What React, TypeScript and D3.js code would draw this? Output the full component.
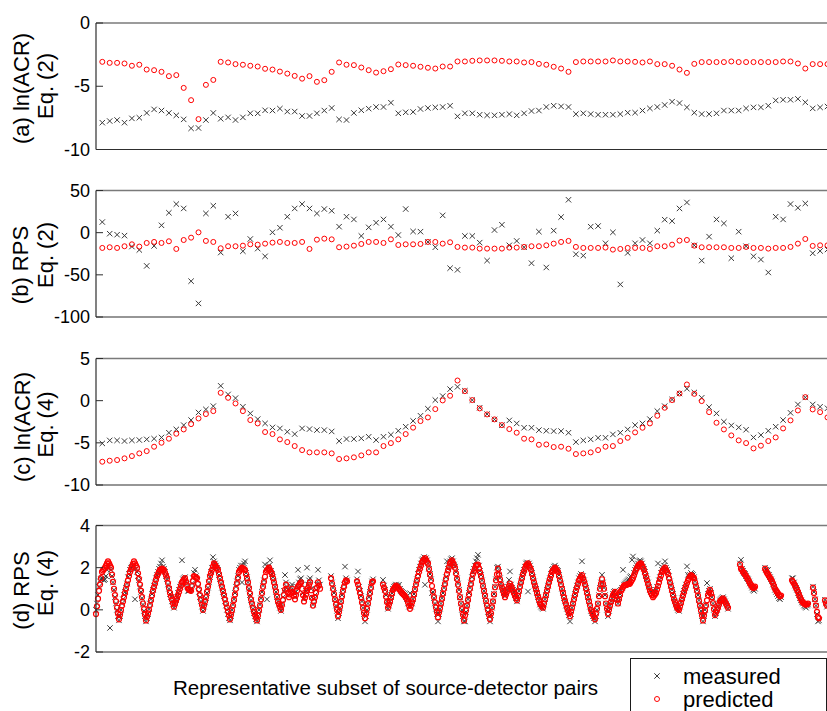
import React from "react";
import * as d3 from "d3";

// ---------- Panel (a): ln(ACR), Eq. (2) ----------
const aPred = [-3.07,-3.15,-3.15,-3.2,-3.38,-3.3,-3.68,-3.73,-3.86,-4.2,-4.12,-5.13,-6.1,-7.6,-4.89,-4.5,-3.07,-3.12,-3.25,-3.3,-3.38,-3.44,-3.62,-3.68,-3.84,-4.0,-4.18,-4.4,-4.2,-4.65,-4.52,-3.86,-3.12,-3.3,-3.33,-3.52,-3.73,-3.92,-3.81,-3.65,-3.28,-3.33,-3.38,
  -3.46,-3.54,-3.6,-3.44,-3.44,-3.04,-3.04,-2.99,-2.96,-2.96,-2.96,-2.99,-3.04,-3.04,-3.12,-3.09,-3.23,-3.3,-3.46,-3.6,-3.86,-3.09,-3.04,-3.04,-3.04,-3.04,-2.96,-3.04,-3.04,-3.07,-3.12,-3.04,-3.25,-3.25,-3.38,-3.68,-3.94,-3.23,-3.09,-3.09,-3.09,-3.09,-3.04,-3.09,-3.09,-3.09,-3.09,-3.09,-3.09,-3.04,-3.04,-3.2,-3.6,-3.25,-3.25,-3.25];
const aMeas = [-7.88,-7.75,-7.67,-7.88,-7.54,-7.49,-7.11,-6.83,-6.92,-7.11,-7.3,-7.62,-8.33,-8.3,-7.67,-7.11,-7.57,-7.46,-7.67,-7.46,-7.14,-7.14,-6.9,-6.92,-6.77,-7.0,-7.0,-7.35,-7.35,-7.14,-6.92,-6.72,-7.62,-7.67,-7.11,-6.9,-6.77,-6.64,-6.64,-6.3,-7.14,-7.06,-7.03,
  -6.8,-6.72,-6.67,-6.64,-6.54,-7.38,-7.14,-7.14,-7.25,-7.3,-7.3,-7.25,-7.2,-7.3,-7.14,-6.96,-6.92,-6.64,-6.54,-6.59,-6.64,-7.2,-7.14,-7.2,-7.25,-7.25,-7.25,-7.2,-7.09,-7.09,-6.92,-6.75,-6.64,-6.48,-6.22,-6.33,-6.67,-7.09,-7.2,-7.2,-7.14,-6.92,-6.92,-6.92,-6.75,-6.67,-6.67,-6.54,-6.12,-6.07,-6.07,-6.0,-6.27,-6.75,-6.67,-6.6];

// ---------- Panel (b): RPS, Eq. (2) ----------
const bMeas = [12.6,-1.2,-2.4,-3.5,-16.5,-20.5,-39.4,-15.7,8.7,23.6,33.9,28.7,-57.5,-83.9,22.8,31.9,-23.6,18.9,22.8,-22.0,-7.5,-18.9,-28.0,0.4,5.9,18.9,28.7,33.9,28.7,22.8,28.0,26.0,7.1,18.9,15.7,-3.9,6.3,11.8,15.7,7.1,-2.8,28.0,1.4,
  1.2,-11.0,-17.3,20.5,-42.1,-44.1,-3.9,-3.9,-11.8,-33.1,3.1,9.4,-15.0,-9.8,-17.3,-36.2,1.2,-41.3,2.4,18.5,39.0,-25.6,-27.2,7.1,7.9,-12.6,0.4,-61.4,-24.0,-12.6,-8.7,-12.6,2.4,15.4,13.8,28.7,35.8,-15.0,-33.1,-4.7,15.7,11.0,-30.3,1.2,-16.1,-28.0,-31.9,-47.2,18.9,15.7,33.9,29.5,34.6,-24.4,-21.7,-20.0];
const bPred = [-18.1,-17.3,-18.1,-16.1,-13.8,-16.5,-12.2,-11.0,-12.2,-10.2,-19.3,-8.7,-5.9,0.4,-9.8,-11.0,-18.5,-16.1,-16.1,-15.4,-13.8,-14.2,-13.0,-11.8,-11.0,-12.2,-12.2,-11.0,-19.3,-8.3,-7.1,-7.9,-17.3,-16.5,-15.4,-13.4,-11.0,-11.0,-12.2,-7.9,-14.6,-13.8,-13.8,
  -13.4,-11.0,-11.0,-13.0,-11.4,-16.9,-17.7,-17.7,-18.9,-18.9,-18.9,-18.9,-17.7,-17.7,-16.9,-16.1,-16.1,-15.0,-13.0,-11.0,-9.8,-16.9,-18.1,-18.1,-18.1,-17.7,-20.1,-19.3,-18.1,-18.1,-18.1,-19.3,-16.1,-16.1,-14.2,-9.4,-8.7,-15.4,-17.3,-17.3,-17.3,-17.3,-18.1,-18.1,-16.9,-18.1,-18.1,-18.9,-18.1,-18.1,-16.9,-13.0,-7.5,-15.7,-15.0,-15.0];

// ---------- Panel (c): ln(ACR), Eq. (4) ----------
const cMeas = [-5.07,-4.71,-4.71,-4.79,-4.71,-4.67,-4.59,-4.51,-4.36,-3.8,-3.41,-2.9,-2.3,-1.4,-1.04,-0.65,1.76,0.74,0.3,-0.72,-1.51,-2.19,-2.7,-3.17,-3.29,-3.69,-3.96,-3.29,-3.37,-3.49,-3.49,-3.65,-4.79,-4.55,-4.55,-4.47,-4.28,-4.67,-4.28,-4.04,-3.57,-3.09,-2.4,
  -1.79,-0.96,0.07,0.54,1.37,1.64,1.17,0.07,-0.84,-1.59,-2.22,-2.9,-2.34,-2.7,-3.21,-3.21,-3.49,-3.57,-3.61,-3.61,-3.8,-4.91,-4.71,-4.59,-4.4,-4.4,-4.0,-3.8,-3.41,-2.9,-2.7,-2.19,-1.24,-0.65,0.14,0.85,1.41,0.97,0.34,-0.76,-1.51,-2.5,-2.94,-3.17,-3.45,-4.36,-4.08,-3.57,-3.09,-2.3,-1.44,-0.45,0.38,-0.45,-0.72,-0.9];
const cPred = [-7.24,-7.12,-7.04,-6.84,-6.57,-6.25,-5.98,-5.46,-4.99,-4.51,-3.92,-3.41,-2.78,-2.11,-1.59,-1.24,0.93,0.34,-0.33,-1.24,-2.3,-2.7,-3.72,-3.96,-4.59,-4.91,-5.38,-5.86,-6.13,-6.13,-6.13,-6.25,-6.92,-6.84,-6.72,-6.49,-6.13,-6.13,-5.38,-5.03,-4.59,-3.96,-3.2,
  -2.42,-1.99,-1.0,0.03,0.58,2.39,1.13,0.07,-0.92,-1.63,-2.22,-2.9,-3.37,-3.8,-4.51,-4.59,-5.23,-5.19,-5.5,-5.46,-5.7,-6.33,-6.25,-6.13,-5.86,-5.46,-5.38,-4.79,-4.4,-3.76,-3.21,-2.7,-1.79,-0.84,0.07,0.85,1.92,0.81,-0.05,-1.36,-2.62,-3.41,-4.12,-4.71,-5.03,-5.66,-5.34,-4.79,-4.36,-3.29,-2.34,-1.16,0.42,-1.04,-1.36,-1.99];

// ---------- Panel (d): RPS, Eq. (4) - dense runs of pairs ----------
const dSegStart = [0, 235, 261, 287, 644, 669, 696, 717, 729];
const dPred = [
  [-0.2,0.17,0.53,0.9,1.2,1.5,1.8,1.87,1.93,2.0,2.1,2.2,2.3,2.2,2.1,2.0,1.67,1.33,1.0,0.7,0.4,0.1,-0.18,-0.45,-0.23,-0.01,0.2,0.4,0.6,0.8,1.0,1.2,1.4,1.6,1.8,1.93,2.05,2.18,2.3,2.2,2.1,2.0,1.73,1.47,1.2,0.9,0.6,0.3,0.03,-0.23,-0.5,-0.33,-0.17,0.0,0.23,0.45,0.68,0.9,1.08,1.25,1.43,1.6,1.7,1.8,1.9,1.92,1.95,1.92,1.9,1.77,1.63,1.5,1.27,1.03,0.8,0.64,0.48,0.31,0.15,0.29,0.43,0.56,0.7,0.85,1.0,1.15,1.3,1.37,1.43,1.5,1.33,1.17,1.0,0.97,0.93,0.9,1.13,1.37,1.6,1.57,1.53,1.5,1.23,0.97,0.7,0.47,0.23,0.0,0.2,0.4,0.6,0.85,1.1,1.35,1.6,1.75,1.9,2.05,2.2,2.13,2.05,1.98,1.9,1.7,1.5,1.3,1.1,0.9,0.7,0.5,0.3,0.11,-0.08,-0.26,-0.45,-0.23,-0.02,0.2,0.47,0.73,1.0,1.27,1.53,1.8,1.87,1.93,2.0,1.97,1.93,1.9,1.7,1.5,1.3,1.03,0.77,0.5,0.3,0.1,-0.1,-0.23,-0.37,-0.5,-0.27,-0.03,0.2,0.5,0.8,1.1,1.33,1.57,1.8,1.87,1.93,2.0,1.9,1.8,1.7,1.5,1.3,1.1,0.87,0.63,0.4,0.27,0.13,0.0,0.23,0.47,0.7,0.95,1.2,1.0,0.8,0.6,0.73,0.87,1.0,0.83,0.67,0.5,0.7,0.9,1.1,1.17,1.23,1.3,1.0,0.7,0.4,0.57,0.73,0.9,1.03,1.17,1.3,0.93,0.57,0.2,0.4,0.6,0.8,1.05,1.3,1.15,1.0],
  [1.5,1.25,1.0,0.75,0.5,0.25,0.0,-0.3,-0.1,0.15,0.4,0.65,0.9,1.1,1.3,1.4,1.35],
  [1.35,1.2,1.0,0.8,0.6,0.35,0.1,-0.15,-0.4,-0.2,0.05,0.3,0.55,0.8,1.05,1.3,1.35],
  [1.2,1.05,0.9,0.63,0.37,0.1,0.25,0.4,0.58,0.77,0.95,1.02,1.08,1.15,1.1,1.05,1.0,0.93,0.87,0.8,0.75,0.7,0.65,0.58,0.5,0.35,0.2,0.05,0.2,0.35,0.5,0.73,0.97,1.2,1.4,1.6,1.8,1.95,2.1,2.25,2.32,2.38,2.45,2.37,2.28,2.2,1.93,1.67,1.4,1.13,0.87,0.6,0.36,0.11,-0.12,-0.35,-0.13,0.08,0.3,0.53,0.77,1.0,1.23,1.47,1.7,1.87,2.03,2.2,2.28,2.35,2.23,2.12,2.0,1.73,1.47,1.2,0.9,0.6,0.3,0.03,-0.23,-0.5,-0.27,-0.03,0.2,0.47,0.73,1.0,1.23,1.47,1.7,1.83,1.97,2.1,2.13,2.15,1.97,1.78,1.6,1.37,1.13,0.9,0.67,0.43,0.2,-0.02,-0.23,-0.45,-0.17,0.12,0.4,0.73,1.07,1.4,1.68,1.95,1.7,1.45,1.2,1.05,0.9,0.75,0.6,0.73,0.87,1.0,1.13,1.25,1.13,1.02,0.9,0.79,0.67,0.56,0.45,0.67,0.88,1.1,1.3,1.5,1.7,1.83,1.97,2.1,2.15,2.2,2.1,2.0,1.9,1.7,1.5,1.3,1.13,0.97,0.8,0.63,0.47,0.3,0.23,0.17,0.1,0.3,0.5,0.7,0.9,1.1,1.3,1.47,1.63,1.8,1.87,1.93,2.0,1.93,1.87,1.8,1.6,1.4,1.2,1.0,0.8,0.6,0.43,0.27,0.1,-0.03,-0.17,-0.3,-0.1,0.1,0.3,0.5,0.7,0.9,1.07,1.23,1.4,1.48,1.57,1.65,1.5,1.35,1.2,1.0,0.8,0.6,0.4,0.2,0.0,-0.11,-0.23,-0.34,-0.45,-0.2,0.05,0.3,0.65,1.0,1.23,1.45,1.23,1.0,0.65,0.3,0.05,-0.2,0.0,0.2,0.37,0.53,0.7,0.78,0.85,0.67,0.48,0.3,0.5,0.7,0.9,0.98,1.07,1.15,1.17,1.18,1.2,1.22,1.23,1.25,1.33,1.42,1.5,1.63,1.77,1.9,1.98,2.07,2.15,2.18,2.2,2.1,2.0,1.9,1.73,1.57,1.4,1.23,1.07,0.9,0.8,0.7,0.6,0.67,0.73,0.8,0.97,1.13,1.3,1.47,1.63,1.8,1.87,1.93,2.0,1.9,1.8,1.7,1.5,1.3,1.1,0.9,0.7,0.5,0.37,0.23,0.1,0.05,0.0,0.17,0.33,0.5,0.67,0.83,1.0,1.13,1.27,1.4,1.48,1.57,1.65,1.6,1.55,1.5,1.3,1.1,0.9,0.67,0.43,0.2,-0.03,-0.27,-0.5,-0.27,-0.03,0.2,0.45,0.7,0.83,0.95,0.78,0.6,0.32,0.03,-0.25,-0.13,-0.02,0.1,0.25,0.4,0.45,0.5,0.55,0.47,0.38,0.3,0.2,0.1],
  [2.15,1.95,1.9,1.8,1.75,1.68,1.6,1.52,1.45,1.35,1.25,1.18,1.1,1.05,1.05,1.1],
  [1.95,1.85,1.75,1.68,1.6,1.52,1.45,1.35,1.25,1.12,1.0,0.92,0.85,0.78,0.7,0.65,0.68],
  [1.4,1.32,1.25,1.15,1.05,0.95,0.85,0.72,0.6,0.5,0.4,0.35,0.3,0.27,0.25,0.27,0.3],
  [1.05,0.8,0.5,0.2,-0.1,-0.35,-0.4],
  [0.45,0.3,0.2],
];
const dMeas = [
  [0.0,0.3,0.7,1.1,1.35,1.45,1.5,1.45,1.4,1.45,1.6,1.9,2.0,2.1,-0.86,1.9,1.6,1.3,0.95,0.6,0.3,0.0,-0.3,-0.5,-0.3,0.0,0.3,0.5,0.7,0.85,1.05,1.25,1.55,1.7,1.9,2.0,2.05,2.1,2.1,0.5,1.95,1.8,1.6,1.4,1.1,0.85,0.55,0.25,-0.05,-0.3,-0.55,-0.4,-0.2,0.05,0.3,0.5,0.75,0.95,1.15,1.3,1.5,1.65,1.8,1.95,2.05,2.2,2.35,2.05,1.95,1.8,1.6,1.45,1.2,1.0,0.75,0.6,0.4,0.25,0.1,0.3,0.45,0.6,0.8,0.95,1.1,1.2,2.35,1.45,1.5,1.55,1.3,1.1,0.9,0.9,0.95,1.0,1.25,1.5,1.75,1.9,1.6,1.4,1.1,0.85,0.6,0.4,0.15,-0.05,0.15,0.35,0.55,0.8,1.05,1.3,1.55,1.8,2.0,2.5,2.3,2.2,2.1,2.0,1.9,1.65,1.45,1.25,1.05,0.85,0.65,0.4,0.2,0.0,-0.2,-0.4,-0.5,-0.3,0.0,0.25,0.5,0.8,1.1,1.35,1.6,1.9,2.0,2.1,1.3,2.1,2.2,2.3,1.75,1.55,1.3,1.0,0.7,0.45,0.25,0.05,-0.15,-0.3,-0.45,-0.55,-0.3,0.0,0.25,0.55,0.85,1.15,1.4,2.15,1.9,0.5,2.05,2.1,2.35,1.85,1.7,1.55,1.35,1.1,0.85,0.6,0.4,0.25,0.1,-0.05,0.3,0.6,0.9,1.65,1.3,1.1,0.95,0.7,0.9,1.1,1.2,0.9,0.8,0.6,0.85,1.1,1.9,1.3,1.45,1.5,1.2,0.8,0.5,0.7,0.9,2.0,1.2,1.4,1.5,1.0,0.6,0.25,0.5,0.7,0.95,1.2,1.9,1.4,1.2],
  [1.6,1.3,1.05,0.8,0.5,0.2,-0.05,-0.4,-0.15,0.1,0.4,0.7,0.95,1.2,2.05,1.5,1.4],
  [1.45,1.82,1.1,0.9,0.65,0.4,0.1,-0.2,-0.55,-0.3,0.0,0.3,0.6,0.85,1.1,1.35,1.45],
  [1.42,1.15,0.95,0.7,0.4,0.05,0.2,0.4,0.6,0.8,1.0,1.1,1.15,1.2,1.15,1.1,1.19,1.0,0.9,0.85,0.8,0.75,0.7,0.6,0.5,0.3,0.15,0.79,0.15,0.3,0.5,0.75,1.0,1.25,1.45,1.7,1.9,2.05,2.2,2.35,2.4,2.5,1.19,2.45,2.35,2.2,1.95,1.7,1.45,0.79,0.85,0.55,0.3,0.05,-0.2,-0.55,-0.2,0.05,0.3,0.55,0.8,1.05,1.3,1.55,2.3,1.95,2.1,2.3,2.4,2.45,2.3,2.15,2.05,1.8,1.5,1.25,0.95,0.6,0.3,0.0,-0.3,-0.55,-0.55,-0.1,0.2,0.5,0.8,1.05,1.3,1.55,1.8,1.95,2.1,2.3,2.45,2.61,2.1,1.85,1.65,1.4,1.15,0.9,0.65,0.4,0.15,-0.1,-0.3,-0.55,-0.25,0.1,0.4,0.75,1.1,1.45,2.0,2.05,1.8,1.5,1.25,1.1,0.95,0.8,0.65,0.8,0.95,1.1,1.42,1.82,1.2,1.05,0.95,0.85,0.7,0.55,0.4,0.65,0.9,1.15,1.35,1.55,1.75,1.9,2.05,2.2,2.25,0.87,2.2,2.1,1.95,1.75,1.55,1.35,1.15,1.0,0.8,0.6,0.45,0.25,0.15,0.1,0.05,0.25,0.5,0.7,0.95,1.15,1.35,1.5,1.7,1.9,1.95,2.05,2.1,2.0,1.9,1.85,1.65,1.45,1.25,1.0,0.8,0.55,0.4,0.2,0.05,-0.1,-0.25,-0.55,-0.2,0.1,0.3,0.55,0.75,0.95,1.15,1.3,1.5,1.6,1.7,2.3,1.6,1.4,1.25,1.05,0.85,0.6,0.4,0.15,-0.05,-0.15,-0.3,-0.4,-0.55,-0.3,0.0,0.3,0.7,1.05,1.3,1.66,1.3,1.05,0.7,0.3,0.0,-0.3,-0.05,0.2,0.4,0.55,0.75,0.85,0.9,0.7,0.5,0.3,0.55,0.75,0.95,1.05,1.9,1.2,1.25,1.3,1.35,1.4,1.45,1.55,1.6,2.37,2.53,1.75,1.9,2.0,2.1,2.2,2.3,2.35,2.3,2.2,2.05,1.95,1.8,1.6,1.45,1.3,1.1,0.95,0.85,0.75,0.7,0.75,0.85,0.95,1.1,2.2,1.4,1.55,1.75,1.9,2.0,2.1,2.3,2.0,1.9,1.8,1.6,1.35,1.15,0.95,0.75,0.55,0.4,0.25,0.1,0.0,-0.05,0.15,0.35,0.55,0.75,0.9,1.05,1.2,2.06,1.66,1.55,1.65,1.75,1.7,1.65,1.55,1.35,1.15,0.95,0.7,0.45,0.2,-0.05,-0.3,-0.55,-0.3,0.0,0.25,1.27,0.75,0.9,1.0,0.8,0.6,0.3,0.0,-0.3,-0.15,0.0,0.15,0.3,0.45,0.5,0.55,0.6,0.5,0.4,0.3,0.2,0.05],
  [2.2,2.37,1.95,1.85,1.75,1.7,1.6,1.5,1.45,1.35,1.25,1.15,1.05,0.95,0.9,1.0],
  [2.0,1.9,1.85,1.9,1.65,1.55,1.45,1.35,1.2,1.1,0.95,0.85,0.75,0.65,0.55,0.5,0.6],
  [1.5,1.5,1.3,1.15,1.05,0.95,0.8,0.7,0.55,0.45,0.35,0.3,0.2,0.15,0.1,0.2,0.25],
  [1.1,0.85,0.5,0.2,-0.2,-0.55,-0.5],
  [0.48,0.3,0.15],
];

// ---------- Axis ticks / labels ----------
const panelLabels1 = ["(a) ln(ACR)", "(b) RPS", "(c) ln(ACR)", "(d) RPS"];
const panelLabels2 = ["Eq. (2)", "Eq. (2)", "Eq. (4)", "Eq. (4)"];
const panelDomains: [number, number][] = [[-10, 0], [-100, 50], [-10, 5], [-2, 4]];
const panelTicks = [[0, -5, -10], [50, 0, -50, -100], [5, 0, -5, -10], [4, 2, 0, -2]];
const xLabel = "Representative subset of source-detector pairs";
const legendLabels = ["measured", "predicted"];

const FONT = "'Liberation Sans', Arial, Helvetica, sans-serif";
const RED = "#ff0000";
const BLACK = "#3a3a3a";

// layout (pixels)
const W = 827, H = 711;
const LEFT = 96, RIGHT = 830;
const layout = [
  { top: 23, bot: 149.5, l1y: 88.5, l2y: 86, l1x: 29, pw: 1 },
  { top: 190.5, bot: 317, l1y: 265, l2y: 255, l1x: 28, pw: 1 },
  { top: 358.5, bot: 485, l1y: 427, l2y: 424.5, l1x: 30, pw: 1 },
  { top: 525.5, bot: 652, l1y: 590.5, l2y: 583, l1x: 29, pw: 1.2 },
];

const cross = (cx: number, cy: number, s = 2.7) =>
  `M${cx - s},${cy - s}L${cx + s},${cy + s}M${cx - s},${cy + s}L${cx + s},${cy - s}`;

type Pt = { x: number; v: number };

function Panel({ k, meas, pred, xs }: { k: number; meas: Pt[]; pred: Pt[]; xs: d3.ScaleLinear<number, number> }) {
  const L = layout[k];
  const y = d3.scaleLinear().domain(panelDomains[k]).range([L.bot, L.top]);
  const crossD = meas.map((p) => cross(xs(p.x), y(p.v))).join("");
  return (
    <g>
      <path d={crossD} stroke={BLACK} strokeWidth={1} fill="none" />
      {pred.map((p, i) => (
        <circle key={i} cx={xs(p.x)} cy={y(p.v)} r={2.5} fill="none" stroke={RED} strokeWidth={L.pw} />
      ))}
      <line x1={LEFT} x2={RIGHT} y1={L.top} y2={L.top} stroke="#7a7a7a" strokeWidth={1.4} />
      <line x1={LEFT} x2={RIGHT} y1={L.bot} y2={L.bot} stroke="#2e2e2e" strokeWidth={1.2} />
      <line x1={LEFT} x2={LEFT} y1={L.top} y2={L.bot} stroke="#2e2e2e" strokeWidth={1.2} />
      {panelTicks[k].map((t) => (
        <g key={t}>
          <line x1={LEFT} x2={LEFT + 7} y1={y(t)} y2={y(t)} stroke="#2e2e2e" strokeWidth={1} />
          <text x={90} y={y(t)} textAnchor="end" dominantBaseline="central" fontSize={18} fontFamily={FONT} fill="#000">
            {t}
          </text>
        </g>
      ))}
      <text transform={`translate(${L.l1x},${L.l1y}) rotate(-90)`} textAnchor="middle" fontSize={22} fontFamily={FONT} fill="#000">
        {panelLabels1[k]}
      </text>
      <text transform={`translate(53,${L.l2y}) rotate(-90)`} textAnchor="middle" fontSize={22} fontFamily={FONT} fill="#000">
        {panelLabels2[k]}
      </text>
    </g>
  );
}

export default function App() {
  const xABC = d3.scaleLinear().domain([0, 97]).range([102.3, 820.1]);
  const xD = d3.scaleLinear().domain([0, 731]).range([96, 827]);

  const toPts = (arr: number[]) => arr.map((v, i) => ({ x: i, v }));
  const segPts = (segs: number[][]) =>
    segs.flatMap((s, si) => s.map((v, j) => ({ x: dSegStart[si] + j, v })));

  return (
    <svg width={W} height={H} style={{ position: "absolute", left: 0, top: 0, background: "#fff" }}>
      <rect x={0} y={0} width={W} height={H} fill="#fff" />
      <Panel k={0} meas={toPts(aMeas)} pred={toPts(aPred)} xs={xABC} />
      <Panel k={1} meas={toPts(bMeas)} pred={toPts(bPred)} xs={xABC} />
      <Panel k={2} meas={toPts(cMeas)} pred={toPts(cPred)} xs={xABC} />
      <Panel k={3} meas={segPts(dMeas)} pred={segPts(dPred)} xs={xD} />

      <text x={173} y={695} fontSize={20.5} fontFamily={FONT} fill="#000">
        {xLabel}
      </text>
      <rect x={630.5} y={658.5} width={196} height={60} fill="#fff" stroke="#1a1a1a" strokeWidth={1} />
      <path d={cross(657, 676, 2.7)} stroke={BLACK} strokeWidth={1} fill="none" />
      <circle cx={657} cy={699} r={2.5} fill="none" stroke={RED} strokeWidth={1} />
      <text x={683} y={676} dominantBaseline="central" fontSize={22} fontFamily={FONT} fill="#000">
        {legendLabels[0]}
      </text>
      <text x={683} y={699} dominantBaseline="central" fontSize={22} fontFamily={FONT} fill="#000">
        {legendLabels[1]}
      </text>
    </svg>
  );
}
